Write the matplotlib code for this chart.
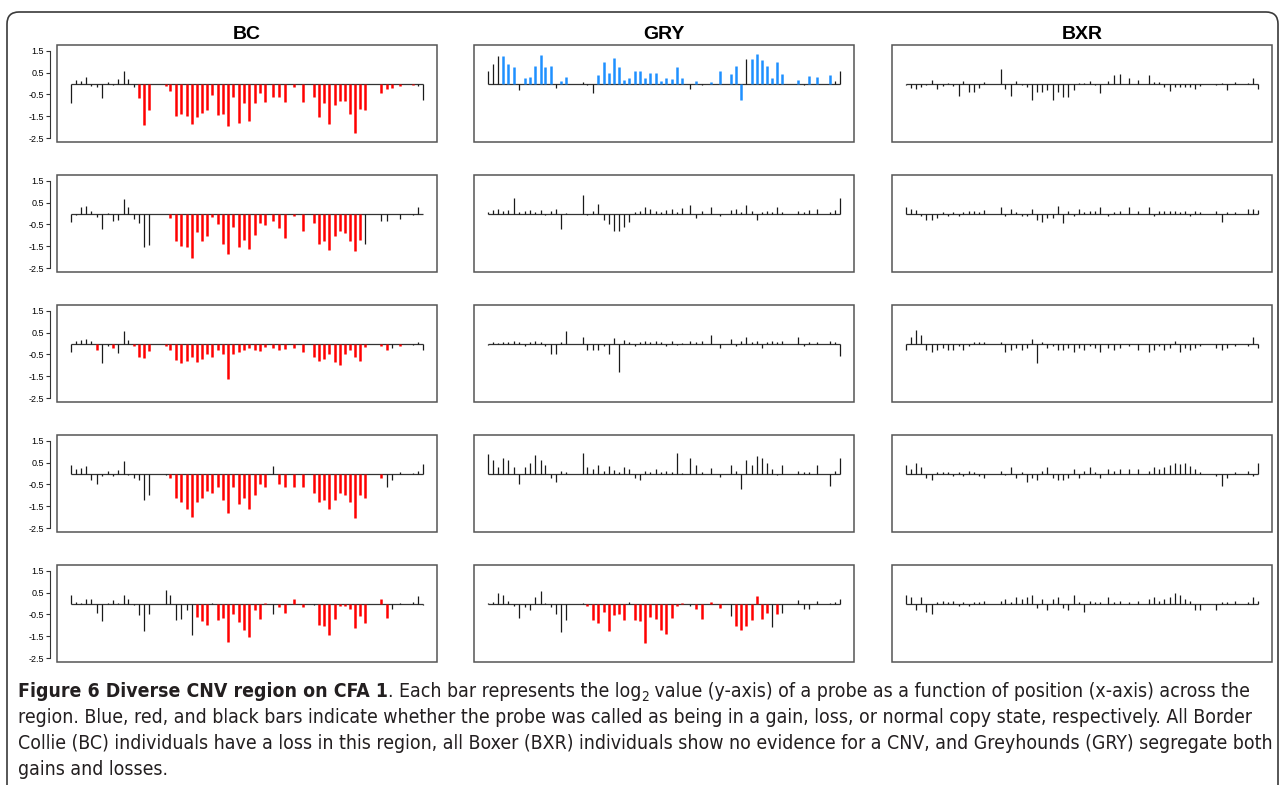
import matplotlib
matplotlib.use('Agg')
import matplotlib.pyplot as plt
from matplotlib import font_manager as fm
from matplotlib.patches import FancyBboxPatch, Rectangle
from matplotlib.transforms import IdentityTransform

# probe positions along the region (shared by every panel)
P = [0, 1, 2, 3, 4, 5, 6.15, 7.2, 8.2, 9.2, 10.2, 11.15, 12.2, 13.2, 14.2, 15.1,
     18.3, 19.2, 20.3, 21.3, 22.4, 23.3, 24.4, 25.3, 26.3, 27.3, 28.3, 29.4, 30.3,
     31.3, 32.4, 33.4, 34.4, 35.4, 36.4, 37.4, 39.0, 40.1, 41.2, 42.9, 44.8, 46.8,
     47.8, 48.7, 49.8, 50.8, 51.8, 52.8, 53.8, 54.8, 55.7, 56.7, 59.7, 60.9, 61.9,
     63.3, 65.8, 66.9, 67.9]

# log2 values, one list per individual; states: n = normal, l = loss, g = gain
bc1 = [-0.90, 0.15, 0.10, 0.29, -0.12, -0.18, -0.64, 0.05, -0.05, 0.20,
       0.59, 0.23, -0.15, -0.67, -1.90, -1.20, -0.10, -0.32, -1.46, -1.38,
       -1.48, -1.87, -1.55, -1.35, -1.20, -0.52, -1.44, -1.37, -1.93, -0.62,
       -1.78, -0.90, -1.70, -0.90, -0.44, -0.84, -0.62, -0.62, -0.84, -0.18,
       -0.85, -0.62, -1.55, -0.91, -1.86, -1.00, -0.79, -0.79, -1.40, -2.27,
       -1.16, -1.19, -0.43, -0.27, -0.20, -0.09, -0.08, -0.12, -0.76]
bc1_s = 'nnnnnnnnnnnnnllllllllllllllllllllllllllllllllllllllllllllnn'
bc2 = [-0.38, -0.08, 0.30, 0.33, 0.10, -0.18, -0.72, 0.02, -0.35, -0.30,
       0.68, 0.30, -0.23, -0.43, -1.52, -1.42, -0.02, -0.20, -1.26, -1.49,
       -1.52, -2.05, -0.84, -1.25, -1.03, -0.15, -0.49, -1.40, -1.87, -0.60,
       -1.55, -1.19, -1.60, -1.00, -0.43, -0.52, -0.36, -0.68, -1.10, -0.10,
       -0.80, -0.43, -1.38, -1.25, -1.67, -1.03, -0.78, -0.87, -1.25, -1.70,
       -1.22, -1.37, -0.33, -0.33, -0.02, -0.23, -0.05, 0.30, 0.12]
bc2_s = 'nnnnnnnnnnnnnnnnnllllllllllllllllllllllllllllllllllnnnnnnn'
bc3 = [-0.40, 0.10, 0.15, 0.20, 0.10, -0.30, -0.90, -0.10, -0.20, -0.45,
       0.55, 0.15, -0.10, -0.60, -0.65, -0.35, -0.10, -0.30, -0.75, -0.90,
       -0.80, -0.60, -0.85, -0.70, -0.50, -0.60, -0.30, -0.50, -1.60, -0.50,
       -0.40, -0.30, -0.20, -0.30, -0.35, -0.15, -0.20, -0.30, -0.25, -0.20,
       -0.40, -0.60, -0.80, -0.70, -0.50, -0.85, -1.00, -0.50, -0.30, -0.60,
       -0.80, -0.15, -0.10, -0.30, -0.20, -0.10, -0.05, 0.05, -0.30]
bc3_s = 'nnnnnlnnlnnnllllllllllllllllllllllllllllllllllllllllllnlnnn'
bc4 = [0.40, 0.20, 0.25, 0.35, -0.30, -0.50, -0.10, 0.10, -0.10, 0.15,
       0.55, -0.05, -0.20, -0.30, -1.20, -1.00, -0.05, -0.20, -1.10, -1.30,
       -1.60, -2.00, -1.30, -1.10, -0.80, -0.90, -0.60, -1.20, -1.80, -0.60,
       -1.40, -1.10, -1.60, -1.00, -0.50, -0.60, 0.35, -0.50, -0.60, -0.60,
       -0.60, -0.90, -1.30, -1.20, -1.60, -1.20, -0.90, -1.00, -1.30, -2.05,
       -1.00, -1.10, -0.20, -0.60, -0.30, 0.05, 0.02, 0.10, 0.45]
bc4_s = 'nnnnnnnnnnnnnnnnnlllllllllllllllllllnllllllllllllllllnnnnnnn'[:59]
bc5 = [0.38, 0.08, 0.02, 0.23, 0.23, -0.43, -0.80, 0.02, 0.15, 0.02,
       0.38, 0.23, -0.08, -0.53, -1.26, -0.49, 0.60, 0.38, -0.73, -0.72,
       -0.30, -1.45, -0.60, -0.79, -0.96, 0.03, -0.73, -0.64, -1.75, -0.50,
       -0.84, -1.19, -1.52, -0.30, -0.72, 0.02, -0.46, -0.15, -0.41, 0.20,
       -0.15, -0.08, -0.96, -1.03, -1.42, -0.70, -0.12, -0.12, -0.27, -1.14,
       -0.58, -0.91, 0.23, -0.64, -0.23, 0.02, 0.08, 0.33, -0.05]
bc5_s = 'nnnnnnnnnnnnnnnnnnnnnnlllnllllllllllnllllnllllllllllllnnnnnnn'

gry1 = [0.58, 0.88, 1.26, 1.28, 0.88, 0.75, -0.30, 0.27, 0.29, 0.82,
        1.29, 0.76, 0.79, -0.22, 0.10, 0.30, 0.06, -0.05, -0.45, 0.41,
        1.00, 0.47, 1.17, 0.77, 0.15, 0.27, 0.57, 0.55, 0.24, 0.48,
        0.50, 0.10, 0.24, 0.23, 0.76, 0.27, -0.25, 0.13, -0.05, 0.07,
        0.55, 0.44, 0.80, -0.75, 1.10, 1.10, 1.37, 1.08, 0.79, 0.25,
        1.00, 0.44, 0.14, -0.05, 0.33, 0.32, 0.38, 0.13, 0.55]
gry1_s = 'nnngggnggggggnggnnngggggggggggggggggngngggggnggggggggngggnn'
gry2 = [0.05, 0.15, 0.20, 0.10, 0.15, 0.70, 0.05, 0.10, 0.15, 0.05,
        0.15, -0.05, 0.10, 0.20, -0.70, 0.02, 0.85, -0.05, 0.10, 0.45,
        -0.30, -0.50, -0.80, -0.80, -0.60, -0.40, 0.05, 0.10, 0.30, 0.20,
        0.10, 0.05, 0.15, 0.20, 0.05, 0.25, 0.40, -0.20, 0.10, 0.30,
        -0.10, 0.15, 0.20, 0.05, 0.40, 0.10, -0.30, 0.05, 0.10, 0.05,
        0.30, 0.05, 0.10, 0.05, 0.15, 0.20, 0.05, 0.15, 0.70]
gry2_s = 'n' * 59
gry3 = [-0.05, 0.05, 0.02, 0.05, 0.05, 0.10, 0.05, -0.10, 0.05, 0.10,
        0.05, -0.10, -0.50, -0.50, 0.05, 0.55, 0.30, -0.30, -0.30, -0.30,
        -0.10, -0.50, 0.25, -1.30, 0.15, 0.05, -0.10, 0.05, 0.10, 0.05,
        0.10, 0.05, -0.10, 0.10, -0.05, 0.02, 0.10, 0.05, 0.10, 0.40,
        -0.20, 0.20, -0.10, 0.10, 0.30, 0.05, 0.10, -0.20, 0.05, 0.10,
        0.05, 0.10, 0.30, -0.10, 0.05, 0.05, 0.10, 0.05, -0.55]
gry3_s = 'n' * 59
gry4 = [0.90, 0.60, 0.30, 0.70, 0.60, 0.30, -0.50, 0.30, 0.50, 0.85,
        0.60, 0.40, -0.20, -0.40, 0.10, 0.05, 0.95, 0.30, 0.20, 0.40,
        0.10, 0.35, 0.15, 0.05, 0.30, 0.20, -0.20, -0.30, 0.10, 0.05,
        0.20, 0.05, 0.10, 0.05, 0.95, 0.02, 0.70, 0.40, 0.05, 0.25,
        -0.15, 0.40, 0.10, -0.70, 0.60, 0.40, 0.80, 0.70, 0.50, 0.20,
        -0.05, 0.40, 0.10, 0.05, 0.05, 0.40, -0.55, 0.10, 0.70]
gry4_s = 'n' * 59
gry5 = [0.02, 0.05, 0.46, 0.40, 0.12, -0.10, -0.64, -0.18, -0.29, 0.30,
        0.58, 0.02, -0.14, -0.46, -1.29, -0.76, 0.02, -0.12, -0.76, -0.87,
        -0.37, -1.25, -0.52, -0.49, -0.76, 0.08, -0.75, -0.79, -1.78, -0.61,
        -0.72, -1.22, -1.37, -0.64, -0.10, 0.01, -0.10, -0.26, -0.72, 0.08,
        -0.20, -0.59, -1.02, -1.19, -1.02, -0.75, 0.35, -0.70, -0.44, -1.05,
        -0.46, -0.44, 0.15, -0.24, -0.24, 0.12, 0.03, 0.09, 0.20]
gry5_s = 'nnnnnnnnnnnnnnnnnllllllllnllllllllllnllllnlllllllnlnnnnnnnnnnn'

bxr1 = [-0.08, -0.20, -0.27, -0.18, -0.08, 0.15, -0.27, -0.12, 0.03, -0.12,
        -0.58, 0.10, -0.38, -0.40, -0.20, 0.06, 0.68, -0.23, -0.55, 0.12,
        -0.05, -0.15, -0.76, -0.38, -0.37, -0.30, -0.76, -0.38, -0.61, -0.61,
        -0.30, 0.03, 0.03, 0.12, -0.08, -0.45, 0.12, 0.38, 0.42, 0.27,
        0.18, 0.38, 0.06, 0.06, -0.18, -0.33, -0.18, -0.15, -0.15, -0.15,
        -0.27, -0.09, -0.05, 0.03, -0.30, 0.05, 0.02, 0.27, -0.23]
bxr2 = [0.30, 0.20, 0.15, -0.10, -0.30, -0.30, -0.20, 0.05, -0.10, 0.05,
        -0.10, 0.05, 0.10, 0.10, 0.05, 0.15, 0.30, -0.10, 0.20, 0.05,
        -0.10, -0.10, 0.20, -0.30, -0.40, -0.20, -0.20, 0.35, -0.45, 0.10,
        -0.10, 0.20, 0.05, 0.10, 0.10, 0.30, -0.10, 0.05, 0.10, 0.30,
        0.10, 0.30, -0.10, 0.10, 0.10, 0.10, 0.10, 0.05, 0.10, -0.10,
        0.10, 0.05, 0.10, -0.40, 0.05, 0.05, 0.20, 0.20, 0.15]
bxr3 = [-0.30, 0.30, 0.60, 0.40, -0.30, -0.40, -0.30, -0.20, -0.30, -0.30,
        -0.10, -0.30, -0.10, 0.05, 0.05, 0.05, 0.05, -0.40, -0.30, -0.20,
        -0.30, -0.20, 0.20, -0.90, 0.05, -0.20, -0.10, -0.30, -0.30, -0.20,
        -0.40, -0.20, -0.30, -0.10, -0.20, -0.40, -0.20, -0.30, -0.20, -0.10,
        -0.30, -0.40, -0.30, -0.10, -0.30, -0.20, 0.10, -0.40, -0.20, -0.30,
        -0.20, -0.10, -0.20, -0.30, -0.20, -0.10, -0.10, 0.30, -0.20]
bxr4 = [0.40, 0.20, 0.50, 0.30, -0.20, -0.30, 0.05, 0.05, 0.05, -0.10,
        0.05, -0.10, 0.10, 0.05, -0.10, -0.20, 0.10, -0.05, 0.30, -0.20,
        0.05, -0.40, -0.20, -0.30, 0.10, 0.30, -0.20, -0.30, -0.30, -0.20,
        0.20, -0.20, 0.10, 0.30, 0.05, -0.20, 0.20, 0.10, 0.20, 0.20,
        0.20, 0.10, 0.30, 0.20, 0.30, 0.40, 0.50, 0.45, 0.50, 0.35,
        0.20, 0.05, -0.10, -0.55, -0.20, 0.05, 0.10, -0.10, 0.50]
bxr5 = [0.40, 0.30, -0.30, 0.30, -0.40, -0.50, 0.05, 0.10, 0.05, 0.10,
        -0.10, 0.05, -0.10, 0.05, 0.05, 0.10, 0.10, 0.20, 0.05, 0.30,
        0.20, 0.30, 0.40, -0.20, 0.20, -0.30, 0.20, 0.30, -0.20, -0.30,
        0.40, 0.05, -0.40, 0.10, 0.05, 0.05, 0.30, 0.05, 0.10, 0.05,
        0.10, 0.20, 0.30, 0.10, 0.20, 0.30, 0.50, 0.40, 0.20, 0.10,
        -0.30, -0.30, -0.30, 0.05, 0.05, 0.10, 0.05, 0.30, 0.10]

breeds = ['BC', 'GRY', 'BXR']
panels = [[(bc1, bc1_s), (gry1, gry1_s), (bxr1, 'n' * 59)],
          [(bc2, bc2_s), (gry2, gry2_s), (bxr2, 'n' * 59)],
          [(bc3, bc3_s), (gry3, gry3_s), (bxr3, 'n' * 59)],
          [(bc4, bc4_s), (gry4, gry4_s), (bxr4, 'n' * 59)],
          [(bc5, bc5_s), (gry5, gry5_s), (bxr5, 'n' * 59)]]
yticks = [1.5, 0.5, -0.5, -1.5, -2.5]

W, H = 1280, 785
fig = plt.figure(figsize=(W / 100, H / 100), dpi=100)
fig.patch.set_facecolor('white')
r = fig.canvas.get_renderer()

STATE_COL = {'n': '#1a1a1a', 'l': '#ff0000', 'g': '#1e90ff'}
STATE_LW = {'n': 0.9, 'l': 1.8, 'g': 1.8}

lefts = [57, 474, 892]
for ri, row in enumerate(panels):
    top = 45 + 130 * ri
    for ci, (vals, states) in enumerate(row):
        ax = fig.add_axes([lefts[ci] / W, 1 - (top + 97) / H, 380 / W, 97 / H])
        ax.set_xlim(-2.6, 70.5)
        ax.set_ylim(-2.67, 1.76)
        for sp in ax.spines.values():
            sp.set_visible(False)
        ax.add_patch(Rectangle((0, 0), 1, 1, transform=ax.transAxes, fill=False,
                               ec='#555555', lw=1.1, clip_on=False))
        ax.hlines(0, P[0], P[-1], color='#333333', lw=0.9)
        for st in 'nlg':
            xs = [p for p, s in zip(P, states) if s == st]
            ys = [v for v, s in zip(vals, states) if s == st]
            if xs:
                ax.vlines(xs, 0, ys, color=STATE_COL[st], lw=STATE_LW[st])
        ax.set_xticks([])
        if ci == 0:
            ax.spines['left'].set_visible(True)
            ax.spines['left'].set_position(('outward', 5))
            ax.spines['left'].set_bounds(-2.5, 1.5)
            ax.spines['left'].set_color('#333333')
            ax.spines['left'].set_linewidth(0.8)
            ax.set_yticks(yticks)
            ax.set_yticklabels([f'{t:.1f}' for t in yticks],
                               fontsize=6.5, family=['Liberation Sans', 'DejaVu Sans'])
            ax.tick_params(axis='y', length=3, width=0.8, pad=1.5, color='#333333')
        else:
            ax.set_yticks([])
        if ri == 0:
            ax.set_title(breeds[ci], fontsize=14, fontweight='bold', pad=4,
                         family=['Liberation Sans', 'DejaVu Sans'])

# outer frame
frame = FancyBboxPatch((7, H - 800), 1271, 788, boxstyle='round,pad=0,rounding_size=12',
                       transform=IdentityTransform(), fill=False, ec='#3a3a3a', lw=1.2)
fig.add_artist(frame)

# caption: pick a condensed face if one is installed
names = {f.name for f in fm.fontManager.ttflist}
has_cond = any(f.name == 'DejaVu Sans' and f.stretch == 'condensed' for f in fm.fontManager.ttflist)
if 'Liberation Sans Narrow' in names:
    CAP, STRETCH = ['Liberation Sans Narrow', 'DejaVu Sans'], 'normal'
elif has_cond:
    CAP, STRETCH = ['DejaVu Sans'], 'condensed'
else:
    CAP, STRETCH = ['Liberation Sans', 'DejaVu Sans'], 'normal'


def put_runs(x, y, runs, size):
    for txt, weight, dy, sc in runs:
        t = fig.text(x / W, 1 - (y + dy) / H, txt, fontsize=size * sc, fontweight=weight,
                     family=CAP, fontstretch=STRETCH, va='baseline', ha='left',
                     color='#231f20')
        x += t.get_window_extent(renderer=r).width
    return x


line1 = [('Figure 6 Diverse CNV region on CFA 1', 'bold', 0, 1),
         ('. Each bar represents the log', 'normal', 0, 1),
         ('2', 'normal', 4, 0.7),
         (' value (y-axis) of a probe as a function of position (x-axis) across the', 'normal', 0, 1)]
lines = ['region. Blue, red, and black bars indicate whether the probe was called as being in a gain, loss, or normal copy state, respectively. All Border',
         'Collie (BC) individuals have a loss in this region, all Boxer (BXR) individuals show no evidence for a CNV, and Greyhounds (GRY) segregate both',
         'gains and losses.']


def width_of(runs, size):
    n0 = len(fig.texts)
    end = put_runs(0, 0, runs, size)
    for t in fig.texts[n0:]:
        t.remove()
    return end


# fit the caption size so the two full lines span the frame width
size = min(12 * 1257 / width_of(line1, 12),
           12 * 1257 / width_of([(lines[1], 'normal', 0, 1)], 12))
put_runs(18, 697, line1, size)
for i, ln in enumerate(lines):
    put_runs(18, 723 + 26 * i, [(ln, 'normal', 0, 1)], size)

fig.savefig('out.png', dpi=100)
